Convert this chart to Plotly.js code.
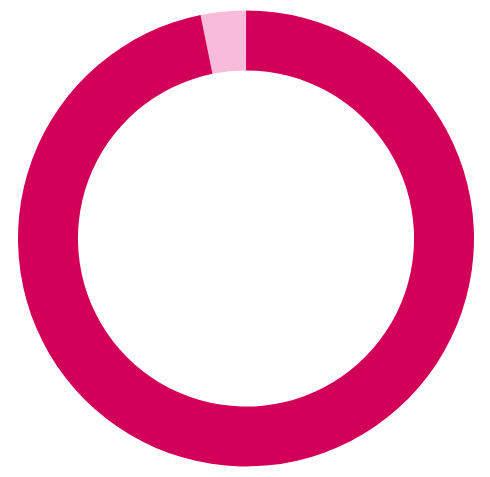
<!DOCTYPE html>
<html>
<head>
<meta charset="utf-8">
<script src="https://cdn.plot.ly/plotly-3.0.1.min.js"></script>
<style>
  html, body { margin: 0; padding: 0; background: #fff; }
  #chart { width: 490px; height: 477px; }
</style>
</head>
<body>
<div id="chart"></div>
<script>
const labels = [ 'Other', 'Main' ];
const values = [ 3.2, 96.8 ];
const colors = [ '#f8bbda', '#d3005a' ];

const data = [ {
    type: 'pie',
    labels,
    values,
    hole: 0.737,
    sort: false,
    // Light slice sits just left of 12 o'clock.
    direction: 'clockwise',
    rotation: -11.5,
    textinfo: 'none',
    hoverinfo: 'label+percent',
    marker: { colors, line: { width: 0 } },
} ];

const layout = {
    width: 490,
    height: 477,
    margin: { l: 18, r: 16, t: 10, b: 10 },
    showlegend: false,
    paper_bgcolor: '#fff',
};

Plotly.newPlot('chart', data, layout, { displayModeBar: false, staticPlot: true });
</script>
</body>
</html>
